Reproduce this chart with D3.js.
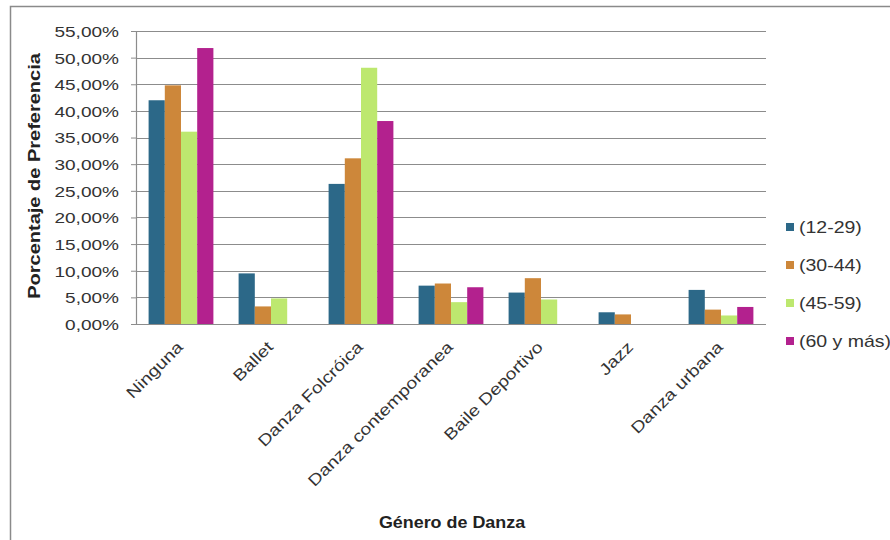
<!DOCTYPE html>
<html>
<head>
<meta charset="utf-8">
<script src="https://cdn.jsdelivr.net/npm/d3@7/dist/d3.min.js"></script>
<style>
  html, body { margin: 0; padding: 0; background: #fff; }
  svg { display: block; font-family: "Liberation Sans", Arial, sans-serif; }
</style>
</head>
<body>
<svg id="chart" width="890" height="540"></svg>
<script>
// ---- data ----
const categories = ["Ninguna", "Ballet", "Danza Folcróica", "Danza contemporanea", "Baile Deportivo", "Jazz", "Danza urbana"];
const seriesNames = ["(12-29)", "(30-44)", "(45-59)", "(60 y más)"];
const s12_29 = [42.0, 9.5, 26.3, 7.2, 5.9, 2.2, 6.4];
const s30_44 = [44.8, 3.3, 31.1, 7.6, 8.6, 1.8, 2.7];
const s45_59 = [36.1, 4.8, 48.1, 4.1, 4.6, 0, 1.6];
const s60_mas = [51.8, 0, 38.1, 6.9, 0, 0, 3.2];
const yTicks = [0, 5, 10, 15, 20, 25, 30, 35, 40, 45, 50, 55];
const colors = ["#2c6888", "#cd873a", "#bde86f", "#b3218e"];
const yTitle = "Porcentaje de Preferencia";
const xTitle = "Género de Danza";

const seriesValues = [s12_29, s30_44, s45_59, s60_mas];
const SX = 1.27; // wide-looking text of the reference (stretch along the text direction)

const svg = d3.select("#chart");
const plot = { left: 136, right: 766, top: 31, bottom: 324 };

// outer border
svg.append("rect")
  .attr("x", 10.5).attr("y", 6.5).attr("width", 900).attr("height", 560)
  .attr("fill", "none").attr("stroke", "#8a8a8a").attr("stroke-width", 1.5);

const x0 = d3.scaleBand().domain(categories).range([plot.left, plot.right])
  .paddingInner(0.28).paddingOuter(0.14);
const x1 = d3.scaleBand().domain(seriesNames).range([0, x0.bandwidth()]);
const y = d3.scaleLinear().domain([0, 55]).range([plot.bottom, plot.top]);

const loc = d3.formatLocale({ decimal: ",", thousands: ".", grouping: [3], currency: ["", "€"] });
const fmt = loc.format(".2%");

// gridlines
svg.append("g").selectAll("line").data(yTicks).join("line")
  .attr("x1", plot.left).attr("x2", plot.right)
  .attr("y1", d => Math.round(y(d)) + 0.5).attr("y2", d => Math.round(y(d)) + 0.5)
  .attr("stroke", "#8c8c8c").attr("stroke-width", 1.2);

// y axis
const yAxis = svg.append("g").attr("transform", `translate(${plot.left},0)`)
  .call(d3.axisLeft(y).tickValues(yTicks).tickFormat(d => fmt(d / 100)).tickSize(5).tickSizeOuter(0));
yAxis.select(".domain").attr("stroke", "#8c8c8c").attr("stroke-width", 1.2);
yAxis.selectAll(".tick line").attr("stroke", "#8c8c8c");
yAxis.selectAll(".tick text")
  .attr("x", -17 / SX).attr("dy", "0.36em")
  .attr("transform", `scale(${SX},1)`)
  .attr("font-size", 15).attr("fill", "#333").attr("font-family", "Liberation Sans, Arial, sans-serif");

// bars
const groups = svg.append("g").selectAll("g").data(categories).join("g")
  .attr("transform", d => `translate(${x0(d)},0)`);
groups.selectAll("rect")
  .data((d, i) => seriesNames.map((s, j) => ({ s, v: seriesValues[j][i], j })))
  .join("rect")
  .attr("x", d => x1(d.s))
  .attr("width", x1.bandwidth())
  .attr("y", d => y(d.v))
  .attr("height", d => y(0) - y(d.v))
  .attr("fill", d => colors[d.j]);

// x axis labels
const xAxis = svg.append("g").attr("transform", `translate(0,${plot.bottom})`)
  .call(d3.axisBottom(x0).tickSize(0).tickSizeOuter(0));
xAxis.select(".domain").remove();
xAxis.selectAll(".tick text")
  .attr("x", 0).attr("y", 0).attr("dy", "0.71em")
  .attr("text-anchor", "end")
  .attr("transform", `translate(-5,16) rotate(-45) scale(1.22,1)`)
  .attr("font-size", 16).attr("fill", "#333").attr("font-family", "Liberation Sans, Arial, sans-serif");

// axis titles
svg.append("text")
  .attr("transform", `translate(40,176) rotate(-90) scale(1.25,1)`)
  .attr("text-anchor", "middle")
  .attr("font-size", 16).attr("font-weight", "bold").attr("fill", "#222")
  .text(yTitle);
svg.append("text")
  .attr("transform", `translate(452,528) scale(1.12,1)`)
  .attr("text-anchor", "middle")
  .attr("font-size", 16).attr("font-weight", "bold").attr("fill", "#222")
  .text(xTitle);

// legend
const legendY = d3.scalePoint().domain(seriesNames).range([227, 341]);
const leg = svg.append("g").selectAll("g").data(seriesNames).join("g")
  .attr("transform", d => `translate(786,${legendY(d)})`);
leg.append("rect").attr("x", 0).attr("y", -4).attr("width", 8).attr("height", 8)
  .attr("fill", (d, i) => colors[i]);
leg.append("text")
  .attr("transform", `translate(13,0) scale(1.22,1)`)
  .attr("dy", "0.36em")
  .attr("font-size", 16).attr("fill", "#333")
  .text(d => d);
</script>
</body>
</html>
